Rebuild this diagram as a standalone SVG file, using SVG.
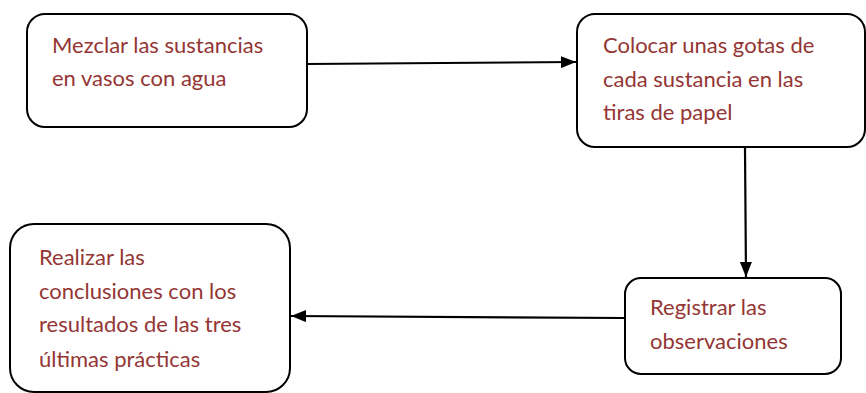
<svg xmlns="http://www.w3.org/2000/svg" width="866" height="393" viewBox="0 0 866 393">
  <style>
    .box { fill: #ffffff; stroke: #000000; stroke-width: 2; }
    .lbl { font-family: Lato, "Open Sans", sans-serif; font-size: 22px; fill: #943634; }
    .conn { stroke: #000000; stroke-width: 2.2; fill: none; }
  </style>
  <defs>
    <marker id="arrow" viewBox="0 0 15 12" refX="15" refY="6" markerWidth="15" markerHeight="12" markerUnits="userSpaceOnUse" orient="auto">
      <path d="M0,0 L15,6 L0,12 Z" fill="#000000"/>
    </marker>
  </defs>
  <rect width="866" height="393" fill="#ffffff"/>

  <g id="connectors">
    <line class="conn" x1="307" y1="64" x2="576" y2="62" marker-end="url(#arrow)"/>
    <line class="conn" x1="745" y1="148" x2="746" y2="277" marker-end="url(#arrow)"/>
    <line class="conn" x1="625" y1="318" x2="291" y2="316" marker-end="url(#arrow)"/>
  </g>

  <g id="node-mezclar">
    <rect class="box" x="27" y="14" width="280" height="113" rx="18"/>
    <text class="lbl" x="52" y="53">Mezclar las sustancias</text>
    <text class="lbl" x="52" y="86">en vasos con agua</text>
  </g>

  <g id="node-colocar">
    <rect class="box" x="577" y="14" width="288" height="133" rx="18"/>
    <text class="lbl" x="603" y="53">Colocar unas gotas de</text>
    <text class="lbl" x="603" y="87">cada sustancia en las</text>
    <text class="lbl" x="603" y="120">tiras de papel</text>
  </g>

  <g id="node-registrar">
    <rect class="box" x="625" y="278" width="216" height="96" rx="16"/>
    <text class="lbl" x="650" y="315">Registrar las</text>
    <text class="lbl" x="650" y="349">observaciones</text>
  </g>

  <g id="node-realizar">
    <rect class="box" x="10" y="224" width="280" height="168" rx="24"/>
    <text class="lbl" x="39" y="265">Realizar las</text>
    <text class="lbl" x="39" y="299">conclusiones con los</text>
    <text class="lbl" x="39" y="332">resultados de las tres</text>
    <text class="lbl" x="39" y="367">últimas prácticas</text>
  </g>
</svg>
